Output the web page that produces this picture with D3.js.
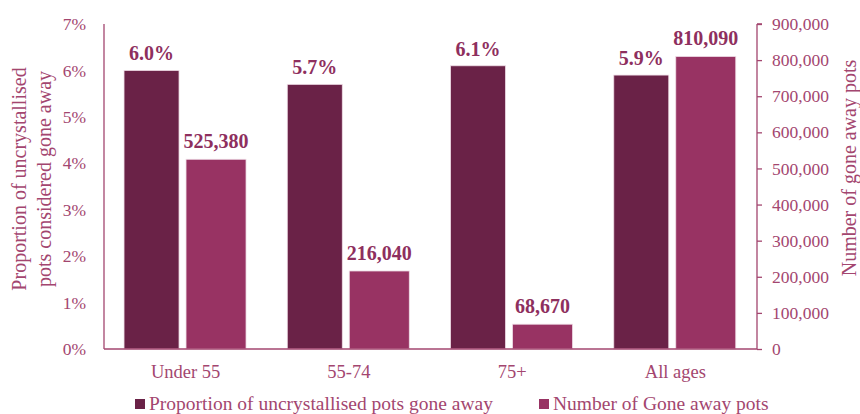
<!DOCTYPE html>
<html>
<head>
<meta charset="utf-8">
<script src="https://cdn.jsdelivr.net/npm/d3@7"></script>
<style>
  html, body { margin: 0; padding: 0; background: #ffffff; }
  svg { display: block; font-family: "Liberation Serif", "DejaVu Serif", serif; }
</style>
</head>
<body>
<svg id="chart" width="860" height="414"></svg>
<script>
const categories = ["Under 55", "55-74", "75+", "All ages"];
const proportionValues = [6.0, 5.7, 6.1, 5.9];
const countValues = [525380, 216040, 68670, 810090];
const leftTicks = [0, 1, 2, 3, 4, 5, 6, 7];
const rightTicks = [0, 100000, 200000, 300000, 400000, 500000, 600000, 700000, 800000, 900000];
const seriesNames = ["Proportion of uncrystallised pots gone away", "Number of Gone away pots"];
const leftTitle = ["Proportion of uncrystallised", "pots considered gone away"];
const rightTitle = "Number of gone away pots";

const darkColor = "#6a2247";
const pinkColor = "#983363";
const textColor = "#a3466f";
const labelColor = "#8e2f5e";

const svg = d3.select("#chart");
const margin = { left: 104, right: 757, top: 24, bottom: 349 };

const x = d3.scaleBand().domain(categories).range([margin.left, margin.right]).padding(0);
const yL = d3.scaleLinear().domain([0, 7]).range([margin.bottom, margin.top]);
const yR = d3.scaleLinear().domain([0, 900000]).range([margin.bottom, margin.top]);

const darkW = 55, pinkW = 60, darkOff = -61.6, pinkOff = 0.4;
const center = c => x(c) + x.bandwidth() / 2;

// bars
const g = svg.append("g");
g.selectAll("rect.dark").data(categories).join("rect")
  .attr("class", "dark")
  .attr("x", (c) => center(c) + darkOff)
  .attr("width", darkW)
  .attr("y", (c, i) => yL(proportionValues[i]))
  .attr("height", (c, i) => yL(0) - yL(proportionValues[i]))
  .attr("fill", darkColor)
  .attr("stroke", "#efdde6").attr("stroke-width", 0.8);

g.selectAll("rect.pink").data(categories).join("rect")
  .attr("class", "pink")
  .attr("x", (c) => center(c) + pinkOff)
  .attr("width", pinkW)
  .attr("y", (c, i) => yR(countValues[i]))
  .attr("height", (c, i) => yR(0) - yR(countValues[i]))
  .attr("fill", pinkColor)
  .attr("stroke", "#efdde6").attr("stroke-width", 0.8);

// data labels
g.selectAll("text.dl1").data(categories).join("text")
  .attr("x", (c) => center(c) + darkOff + darkW / 2)
  .attr("y", (c, i) => yL(proportionValues[i]) - 10)
  .attr("text-anchor", "middle")
  .attr("font-size", 20).attr("font-weight", "bold")
  .attr("fill", labelColor)
  .text((c, i) => proportionValues[i].toFixed(1) + "%");

g.selectAll("text.dl2").data(categories).join("text")
  .attr("x", (c) => center(c) + pinkOff + pinkW / 2)
  .attr("y", (c, i) => yR(countValues[i]) - 11)
  .attr("text-anchor", "middle")
  .attr("font-size", 20).attr("font-weight", "bold")
  .attr("fill", labelColor)
  .text((c, i) => d3.format(",")(countValues[i]));

// left axis
const axL = svg.append("g").attr("transform", `translate(${margin.left},0)`)
  .call(d3.axisLeft(yL).tickValues(leftTicks).tickSize(0).tickPadding(18).tickFormat(d => d + "%"));
// right axis
const axR = svg.append("g").attr("transform", `translate(${margin.right},0)`)
  .call(d3.axisRight(yR).tickValues(rightTicks).tickSize(5).tickPadding(10).tickFormat(d3.format(",")));
// bottom axis
const axB = svg.append("g").attr("transform", `translate(0,${margin.bottom})`)
  .call(d3.axisBottom(x).tickSize(0).tickPadding(16));

[axL, axR, axB].forEach(a => {
  a.select(".domain").attr("stroke", textColor).attr("stroke-width", 1.3);
  a.selectAll(".tick line").attr("stroke", textColor).attr("stroke-width", 1.3);
  a.selectAll(".tick text").attr("fill", textColor).attr("font-size", 17.5)
    .attr("font-family", "Liberation Serif, serif");
});
axB.selectAll(".tick text").attr("font-size", 18.5);
axL.select(".domain").attr("d", `M0,${margin.bottom}V${margin.top}`);
axR.select(".domain").attr("d", `M0,${margin.bottom}V${margin.top}M0,${margin.top}H5`);
axB.select(".domain").attr("d", `M${margin.left},0H${margin.right}`);

// axis titles
leftTitle.forEach((t, i) => {
  svg.append("text")
    .attr("transform", `translate(${26 + i * 25},179) rotate(-90)`)
    .attr("text-anchor", "middle")
    .attr("font-size", 20).attr("fill", textColor)
    .text(t);
});
svg.append("text")
  .attr("transform", `translate(856,168) rotate(-90)`)
  .attr("text-anchor", "middle")
  .attr("font-size", 20).attr("fill", textColor)
  .text(rightTitle);

// legend
const legendX = [135, 539];
const leg = svg.append("g");
seriesNames.forEach((name, i) => {
  leg.append("rect").attr("x", legendX[i]).attr("y", 399).attr("width", 10).attr("height", 10)
    .attr("fill", i === 0 ? darkColor : pinkColor);
  leg.append("text").attr("x", legendX[i] + 14).attr("y", 410)
    .attr("font-size", 19.5).attr("fill", textColor).text(name);
});
</script>
</body>
</html>
